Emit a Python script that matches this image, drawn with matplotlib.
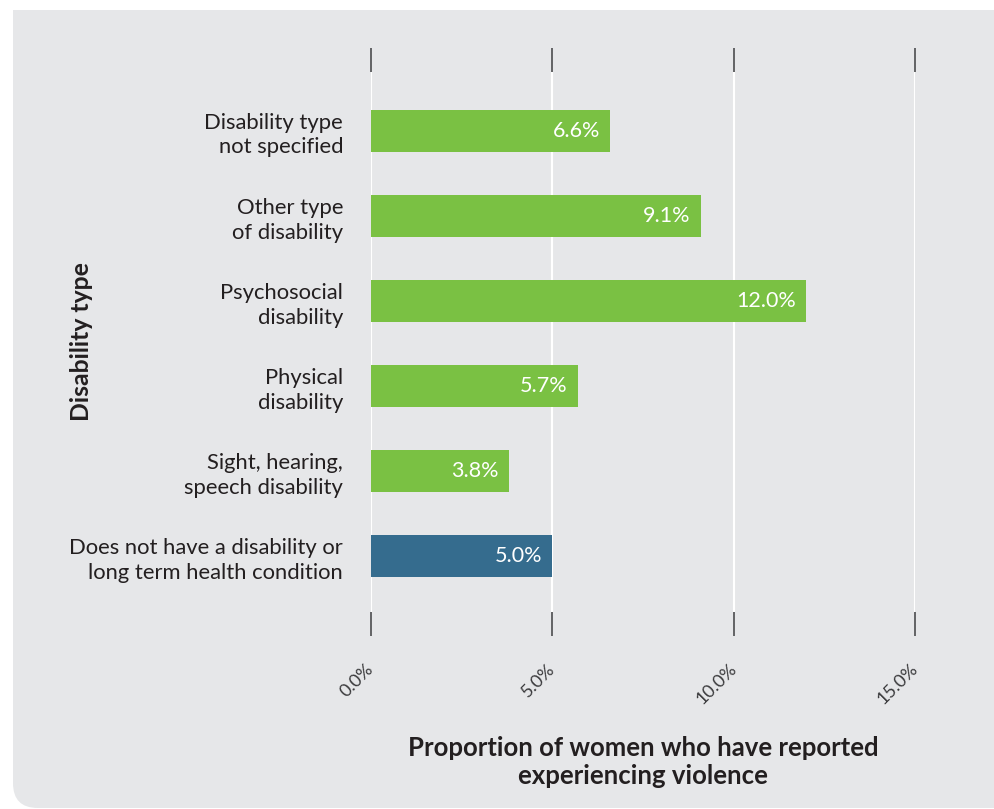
import matplotlib
matplotlib.use("Agg")
import matplotlib.pyplot as plt
from matplotlib.patches import FancyBboxPatch, Rectangle

# ── Data ────────────────────────────────────────────────────────────────
categories = [
    "Does not have a disability or\nlong term health condition",
    "Sight, hearing,\nspeech disability",
    "Physical\ndisability",
    "Psychosocial\ndisability",
    "Other type\nof disability",
    "Disability type\nnot specified",
]
values = [5.0, 3.8, 5.7, 12.0, 9.1, 6.6]
colors = ["#356c8e", "#7ac143", "#7ac143", "#7ac143", "#7ac143", "#7ac143"]
xticks = [0, 5, 10, 15]
xtick_labels = ["0.0%", "5.0%", "10.0%", "15.0%"]

plt.rcParams["font.family"] = ["Lato", "DejaVu Sans"]
W, H = 995, 809
fig = plt.figure(figsize=(W / 100, H / 100), dpi=100)

# grey panel, only the bottom-left corner is rounded
panel_bg = "#e6e7e9"
fig.patches.append(FancyBboxPatch((13 / W, 1 / H), 1.2, 0.6,
                                  boxstyle="round,pad=0,rounding_size=0.025",
                                  transform=fig.transFigure, fc=panel_bg, ec="none",
                                  mutation_aspect=W / H, zorder=-2))
fig.patches.append(Rectangle((13 / W, 0.3), 1.0, (H - 10) / H - 0.3,
                             transform=fig.transFigure, fc=panel_bg, ec="none", zorder=-2))

ax = fig.add_axes([371 / W, 1 - 612 / H, 544 / W, 540 / H])
ax.set_facecolor("none")
ypos = range(len(categories))
bars = ax.barh(ypos, values, height=0.49, color=colors, zorder=3)
for b, v in zip(bars, values):
    ax.text(v - 0.28, b.get_y() + b.get_height() / 2, f"{v:.1f}%",
            ha="right", va="center", color="white", fontsize=15.5, zorder=4)

ax.set_xlim(0, 15)
ax.set_ylim(-0.66, 5.69)
ax.set_xticks(xticks)
ax.set_xticklabels(xtick_labels, rotation=45, ha="right", va="center",
                   rotation_mode="anchor", fontsize=13, color="#3a3a3c")
ax.set_yticks(list(ypos))
ax.set_yticklabels(categories, fontsize=15.8, color="#231f20", linespacing=1.3)
ax.tick_params(axis="x", top=True, bottom=True, direction="out", length=17,
               width=1.3, color="#58595b", pad=22)
ax.tick_params(axis="y", length=0, pad=20)
for s in ax.spines.values():
    s.set_visible(False)
ax.grid(axis="x", color="white", lw=1.5, zorder=1)
ax.set_axisbelow(True)

fig.text(82 / W, 1 - 342 / H, "Disability type", rotation=90, ha="center",
         va="center", fontsize=17.8, fontweight="bold", color="#231f20")
fig.text(643 / W, 1 - 762 / H, "Proportion of women who have reported\nexperiencing violence",
         ha="center", va="center", fontsize=18.5, fontweight="bold", color="#231f20",
         linespacing=1.2)

fig.savefig("out.png", dpi=100, facecolor="white")
